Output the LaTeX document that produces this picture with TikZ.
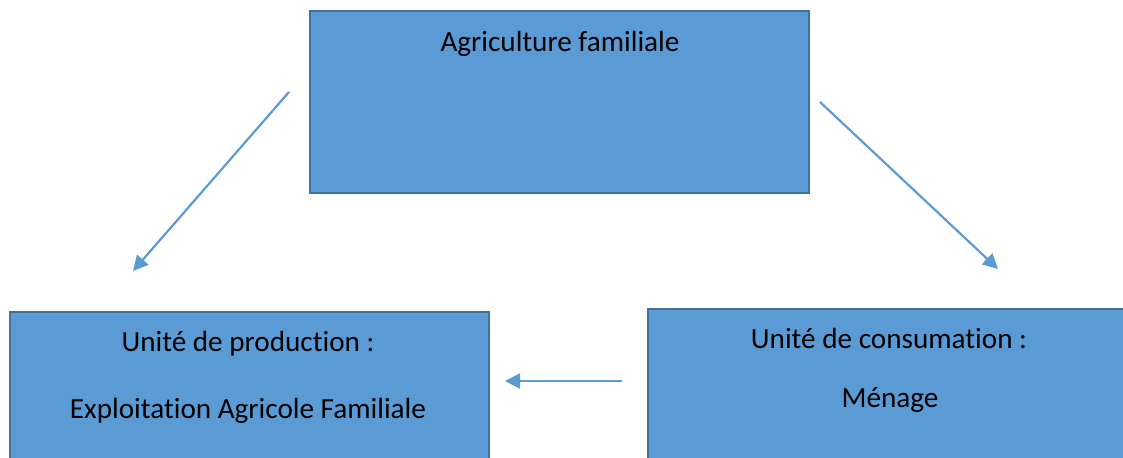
\documentclass[tikz,border=0pt]{standalone}
\usepackage{fontspec}
\setmainfont{Carlito}[Ligatures=NoCommon]
\usepackage{xcolor}
\usetikzlibrary{arrows.meta}
\definecolor{boxfill}{HTML}{5B9BD5}
\definecolor{boxline}{HTML}{41719C}
\tikzset{
  box/.style={draw=boxline, fill=boxfill, line width=1.1pt, inner sep=0pt},
  arr/.style={draw=boxfill, line width=1.1pt, -{Triangle[length=7.5pt,width=7.5pt]}},
  lab/.style={text=black, font=\fontsize{14.6}{17.5}\selectfont, anchor=base, inner sep=0pt},
}

\begin{document}
\begin{tikzpicture}[x=0.5pt,y=-0.5pt]
  \useasboundingbox (0,0) rectangle (1123,458);
  \clip (0,0) rectangle (1123,458);
  % boxes
  \node[box, minimum width=249.5pt, minimum height=91pt] (agri) at (559.5,102) {};
  \node[box, minimum width=239.5pt, minimum height=84pt] (prod) at (249.5,396) {};
  \node[box, minimum width=245pt, minimum height=85.5pt] (cons) at (893,394.5) {};
  % texts
  \node[lab] (agri-t) at (560,52) {Agriculture familiale};
  \node[lab] (prod-t1) at (248,352) {Unité de production :};
  \node[lab] (prod-t2) at (248,419) {Exploitation Agricole Familiale};
  \node[lab] (cons-t1) at (889,349) {Unité de consumation :};
  \node[lab] (cons-t2) at (890,408) {Ménage};
  % arrows
  \coordinate (a1) at (289,92);  \coordinate (b1) at (133,271);
  \coordinate (a2) at (820,102); \coordinate (b2) at (998,269);
  \coordinate (a3) at (622,381); \coordinate (b3) at (505,381);
  \foreach \i in {1,2,3}
    \draw[arr] (a\i) -- (b\i);
\end{tikzpicture}
\end{document}
